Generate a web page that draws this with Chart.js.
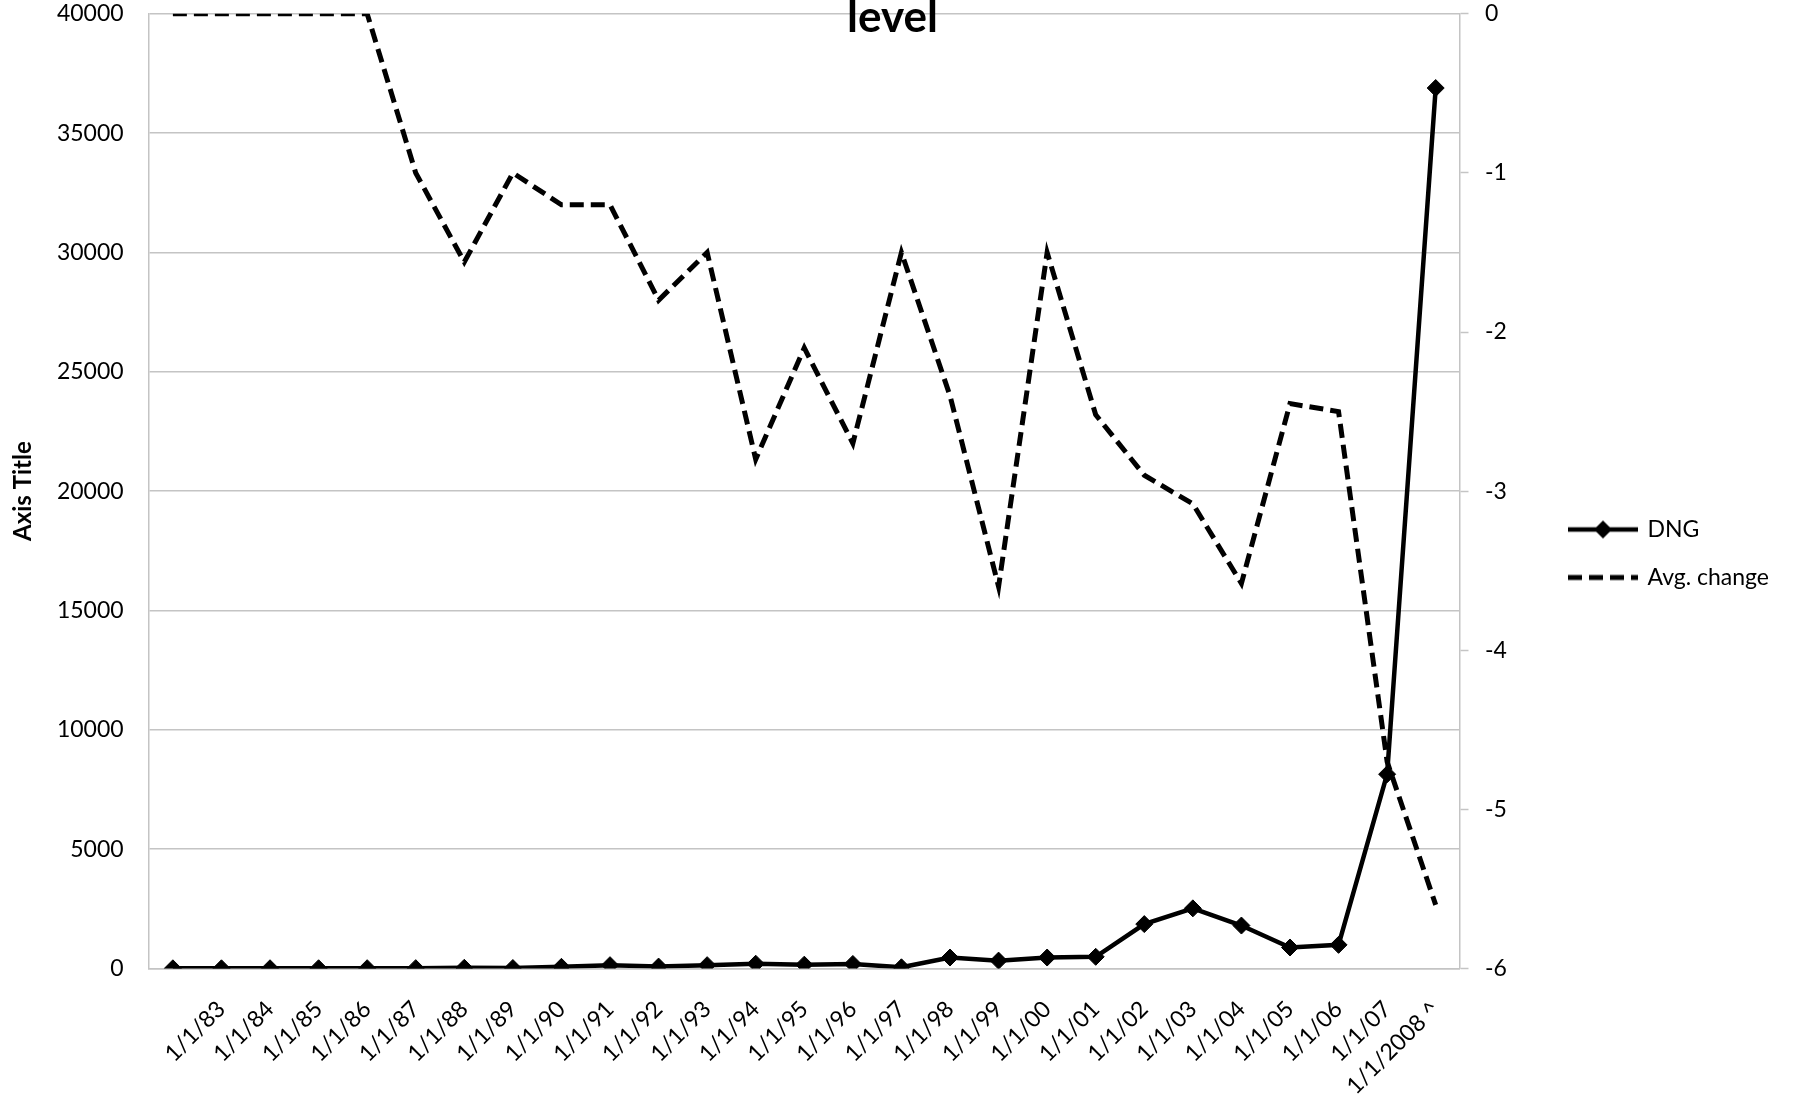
<!DOCTYPE html>
<html>
<head>
<meta charset="utf-8">
<script src="https://cdn.jsdelivr.net/npm/chart.js@4/dist/chart.umd.min.js"></script>
<style>
  html, body { margin: 0; padding: 0; background: #ffffff; }
  #wrap { width: 1793px; height: 1107px; }
</style>
</head>
<body>
<div id="wrap"><canvas id="chart" width="1793" height="1107"></canvas></div>
<script>
// Category labels (first slot is left blank)
const categories = ['', '1/1/83', '1/1/84', '1/1/85', '1/1/86', '1/1/87', '1/1/88', '1/1/89',
  '1/1/90', '1/1/91', '1/1/92', '1/1/93', '1/1/94', '1/1/95', '1/1/96', '1/1/97', '1/1/98',
  '1/1/99', '1/1/00', '1/1/01', '1/1/02', '1/1/03', '1/1/04', '1/1/05', '1/1/06', '1/1/07',
  '1/1/2008 ^'];

// DNG level (left axis)
const dngValues = [8, 8, 10, 10, 12, 15, 30, 20, 70, 140, 80, 140, 200, 160, 190, 50, 460,
  330, 460, 490, 1860, 2520, 1800, 880, 990, 8140, 36890];

// Average change (right axis)
const avgChangeValues = [0, 0, 0, 0, 0, -1.0, -1.56, -1.0, -1.2, -1.2, -1.8, -1.5, -2.8,
  -2.1, -2.7, -1.5, -2.4, -3.6, -1.5, -2.52, -2.9, -3.08, -3.58, -2.45, -2.5, -4.7, -5.6];

// Axis tick settings
const leftTicks = { min: 0, max: 40000, step: 5000 };
const rightTicks = { min: -6, max: 0, step: 1 };

const seriesNames = ['DNG', 'Avg. change'];
const titleText = 'level';
const leftAxisTitle = 'Axis Title';

const FONT = 'Lato, "Open Sans", sans-serif';
const GRID = '#c4c4c4';
const TEXT_SIZE = 23;

// Legend symbols: a short line with the series styling
function legendSymbol(dashed, diamond) {
  const c = document.createElement('canvas');
  c.width = 74; c.height = 22;
  const g = c.getContext('2d');
  g.strokeStyle = '#000';
  g.lineWidth = dashed ? 5 : 4.5;
  if (dashed) g.setLineDash([14, 7]);
  g.beginPath(); g.moveTo(2, 11); g.lineTo(72, 11); g.stroke();
  if (diamond) {
    g.setLineDash([]);
    g.fillStyle = '#000';
    g.beginPath();
    g.moveTo(37, 2); g.lineTo(46, 11); g.lineTo(37, 20); g.lineTo(28, 11);
    g.closePath(); g.fill();
  }
  return c;
}
const legendSymbols = [legendSymbol(false, true), legendSymbol(true, false)];

// Title text drawn over the top of the plot
const topTitle = {
  id: 'topTitle',
  afterDraw(chart) {
    const ctx = chart.ctx;
    ctx.save();
    ctx.font = 'bold 44px ' + FONT;
    ctx.fillStyle = '#000';
    ctx.textAlign = 'center';
    ctx.textBaseline = 'alphabetic';
    ctx.fillText(titleText, chart.width / 2 - 4, 32);
    ctx.restore();
  }
};

new Chart(document.getElementById('chart'), {
  type: 'line',
  data: {
    labels: categories,
    datasets: [
      {
        label: seriesNames[0],
        data: dngValues,
        yAxisID: 'y',
        borderColor: '#000',
        backgroundColor: '#000',
        borderWidth: 4.5,
        tension: 0,
        pointStyle: 'rectRot',
        pointRadius: 8.5,
        pointBackgroundColor: '#000',
        pointBorderColor: '#000',
        pointBorderWidth: 1,
        order: 1
      },
      {
        label: seriesNames[1],
        data: avgChangeValues,
        yAxisID: 'y1',
        borderColor: '#000',
        backgroundColor: '#000',
        borderWidth: 5,
        borderDash: [14, 7],
        tension: 0,
        pointRadius: 0,
        order: 2
      }
    ]
  },
  options: {
    responsive: false,
    animation: false,
    devicePixelRatio: 1,
    layout: { padding: { left: 5, right: 14, top: 0, bottom: 0 } },
    plugins: {
      title: { display: false },
      tooltip: { enabled: false },
      legend: {
        position: 'right',
        align: 'center',
        labels: {
          usePointStyle: true,
          pointStyleWidth: 66,
          boxHeight: 22,
          padding: 25,
          color: '#000',
          font: { family: FONT, size: TEXT_SIZE },
          generateLabels(chart) {
            const items = Chart.defaults.plugins.legend.labels.generateLabels(chart);
            items.forEach((it, i) => { it.pointStyle = legendSymbols[i]; });
            return items;
          }
        }
      }
    },
    scales: {
      x: {
        type: 'category',
        offset: true,
        afterFit(scale) { scale.height = 138.5; },
        grid: { display: false, drawTicks: false },
        border: { display: true, color: GRID, width: 1.5 },
        ticks: {
          autoSkip: false,
          minRotation: 45,
          maxRotation: 45,
          padding: 27,
          color: '#000',
          font: { family: FONT, size: TEXT_SIZE }
        }
      },
      y: {
        position: 'left',
        min: leftTicks.min,
        max: leftTicks.max,
        afterFit(scale) { scale.width = 143.6; },
        grid: { color: GRID, lineWidth: 1.5, drawTicks: true, tickLength: 25, tickColor: 'rgba(0,0,0,0)' },
        border: { display: true, color: GRID, width: 1.5 },
        ticks: {
          stepSize: leftTicks.step,
          padding: 0,
          color: '#000',
          font: { family: FONT, size: TEXT_SIZE },
          callback: v => String(v)
        },
        title: {
          display: true,
          text: leftAxisTitle,
          color: '#000',
          font: { family: FONT, size: 24, weight: 'bold' },
          padding: { top: 4, bottom: 4 }
        }
      },
      y1: {
        position: 'right',
        min: rightTicks.min,
        max: rightTicks.max,
        afterFit(scale) { scale.width = 85; },
        grid: {
          display: true, drawOnChartArea: false, drawTicks: true, tickLength: 25,
          tickColor: GRID, tickWidth: 1.5, tickBorderDash: [8, 60]
        },
        border: { display: true, color: GRID, width: 1.5 },
        ticks: {
          stepSize: rightTicks.step,
          padding: 0,
          color: '#000',
          font: { family: FONT, size: TEXT_SIZE },
          callback: v => String(v)
        }
      }
    }
  },
  plugins: [topTitle]
});
</script>
</body>
</html>
